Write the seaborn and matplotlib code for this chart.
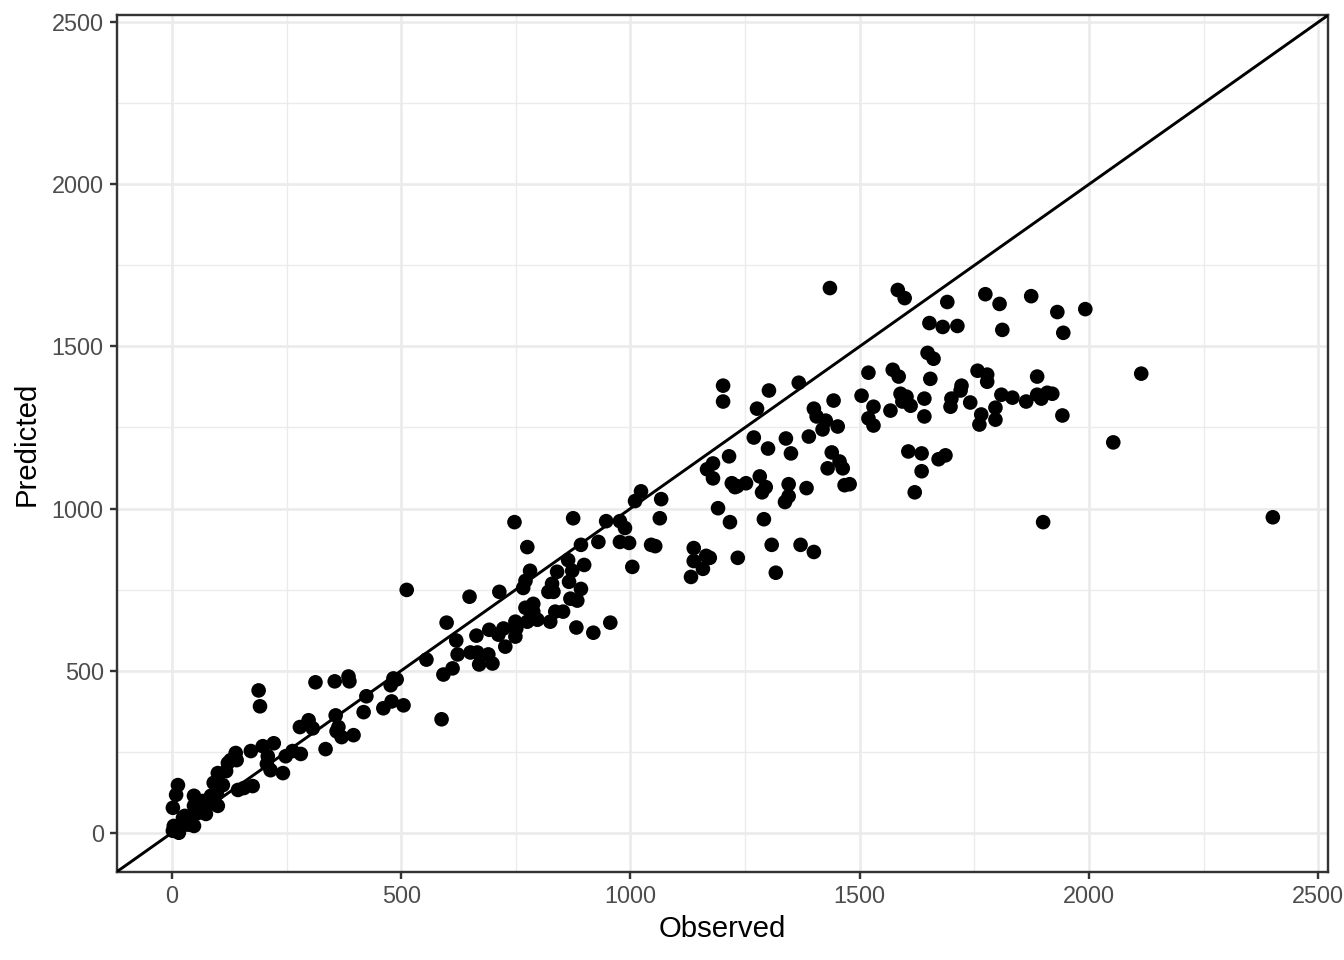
"""
Predicted vs observed scatter, with the 1:1 line.
"""

import numpy as np
import pandas as pd
import matplotlib
matplotlib.use("Agg")
import matplotlib.pyplot as plt
from matplotlib.ticker import MultipleLocator
import seaborn as sns

# valores
observed = [
    2, 13, 9, 2, 4, 11, 20, 24, 35, 41, 48, 48, 48, 57, 63, 74, 85, 89, 100, 91,
    111, 100, 118, 122, 128, 139, 141, 144, 157, 176, 172, 198, 209, 207, 215, 222,
    242, 248, 263, 281, 189, 192, 15, 28, 67, 98,
    279, 298, 307, 313, 335, 355, 357, 363, 359, 370, 385, 387, 396, 418, 424, 461,
    477, 483, 490, 479, 505, 512, 555, 588, 592, 612, 620, 623, 599, 649, 651, 666,
    664, 670, 690, 692, 699, 712, 714, 723, 727, 749, 751, 749, 747, 766, 771, 781,
    771, 788, 788, 775, 797, 775, 821, 832, 829, 840, 825, 836, 853, 864, 873, 875,
    866, 892, 869, 884, 892, 899, 882, 919, 930, 947, 956, 977, 988, 977, 997, 1004,
    1010, 1023, 1067, 1064, 1045, 1054,
    1167, 1180, 1180, 1191, 1217, 1228, 1221, 1138, 1138, 1165, 1173, 1158, 1132, 1234,
    1202, 1202, 1302, 1367, 1276, 1400, 1406, 1426, 1419, 1443, 1269, 1300, 1339, 1350,
    1389, 1439, 1430, 1452, 1215, 1233, 1252, 1282, 1295, 1287, 1345, 1345, 1337, 1384,
    1291, 1308, 1371, 1400, 1317,
    1435, 1583, 1598, 1691, 1652, 1681, 1713, 1648, 1661, 1519, 1572, 1585, 1654, 1504,
    1589, 1602, 1593, 1611, 1641, 1641, 1567, 1530, 1519, 1530, 1700, 1698, 1456, 1463,
    1467, 1478, 1606, 1635, 1672, 1687, 1635, 1620,
    1774, 1805, 1811, 1874, 1757, 1778, 1778, 1741, 1809, 1833, 1863, 1796, 1765, 1761,
    1796, 1931, 1992, 1944, 1887, 1887, 1896, 1909, 1920, 1942, 2053, 2114, 2401, 1900,
    1722, 1720,
]
predicted = [
    77, 147, 117, 6, 21, 15, 25, 46, 25, 46, 21, 83, 114, 61, 71, 58, 114, 92, 83, 154,
    147, 184, 190, 215, 224, 246, 224, 132, 138, 144, 252, 267, 236, 212, 193, 276,
    184, 236, 252, 243, 439, 390, 0, 52, 98, 120,
    326, 347, 322, 464, 258, 467, 362, 326, 313, 295, 482, 467, 301, 372, 421, 384,
    455, 476, 473, 405, 393, 749, 534, 350, 488, 507, 593, 550, 648, 728, 556, 556,
    608, 519, 550, 626, 522, 611, 743, 630, 574, 651, 630, 605, 958, 755, 777, 808,
    694, 706, 682, 651, 657, 881, 743, 743, 768, 805, 651, 682, 682, 841, 808, 970,
    774, 752, 722, 716, 888, 826, 633, 617, 897, 961, 648, 961, 940, 897, 894, 820,
    1023, 1053, 1029, 970, 888, 884,
    1121, 1093, 1139, 1001, 958, 1066, 1078, 878, 838, 854, 848, 814, 789, 848,
    1379, 1330, 1364, 1388, 1308, 1308, 1284, 1271, 1244, 1333, 1219, 1185, 1216, 1170,
    1222, 1173, 1124, 1253, 1161, 1069, 1078, 1099, 1066, 1050, 1075, 1038, 1020, 1063,
    967, 888, 888, 866, 802,
    1680, 1674, 1649, 1637, 1572, 1560, 1563, 1480, 1462, 1419, 1428, 1407, 1400, 1348,
    1354, 1345, 1330, 1317, 1339, 1284, 1302, 1314, 1278, 1256, 1339, 1314, 1145, 1124,
    1072, 1075, 1176, 1170, 1152, 1164, 1115, 1050,
    1661, 1631, 1551, 1655, 1425, 1413, 1391, 1327, 1351, 1342, 1330, 1311, 1290, 1259,
    1274, 1606, 1615, 1542, 1407, 1351, 1339, 1357, 1354, 1287, 1204, 1416, 973, 958,
    1379, 1364,
]

df = pd.DataFrame({"Observed": observed, "Predicted": predicted})
lim = max(df["Observed"].max(), df["Predicted"].max())
pad = lim * 0.05

sns.set_theme(style="white")
plt.rcParams["font.family"] = ["Liberation Sans", "DejaVu Sans"]

fig, ax = plt.subplots(figsize=(7, 5), dpi=192)
fig.subplots_adjust(left=0.087, right=0.988, top=0.984, bottom=0.092)

# rejilla estilo theme_bw
ax.set_axisbelow(True)
ax.xaxis.set_major_locator(MultipleLocator(500))
ax.yaxis.set_major_locator(MultipleLocator(500))
ax.xaxis.set_minor_locator(MultipleLocator(250))
ax.yaxis.set_minor_locator(MultipleLocator(250))
ax.grid(which="major", color="#EBEBEB", linewidth=1.0)
ax.grid(which="minor", color="#EBEBEB", linewidth=0.5)

sns.scatterplot(data=df, x="Observed", y="Predicted", color="black",
                s=30, edgecolor="none", linewidth=0, ax=ax, zorder=3)
ax.axline((0, 0), slope=1, color="black", linewidth=1.1, zorder=4)

ax.set_xlim(-pad, lim + pad)
ax.set_ylim(-pad, lim + pad)

for s in ax.spines.values():
    s.set_color("#333333")
    s.set_linewidth(0.9)
ax.tick_params(which="major", length=2.75, width=0.9, color="#333333",
               labelcolor="#4D4D4D", labelsize=8.8, pad=2.2, left=True, bottom=True)
ax.tick_params(which="minor", length=0)
ax.set_xlabel("Observed", fontsize=11, color="black", labelpad=2.5)
ax.set_ylabel("Predicted", fontsize=11, color="black", labelpad=4)

plt.savefig("out.png", dpi=192)
plt.close()
